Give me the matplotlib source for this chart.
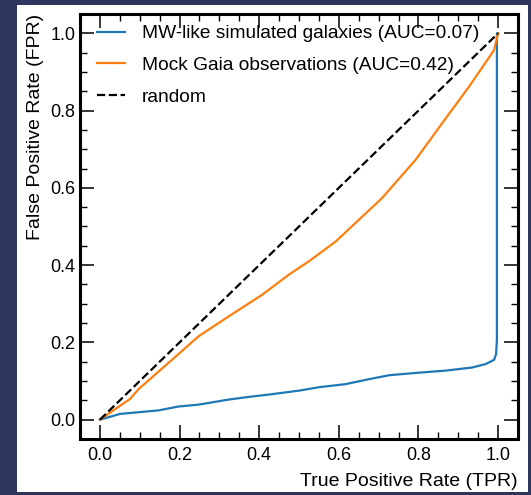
import matplotlib
matplotlib.use("Agg")
import matplotlib.pyplot as plt
from matplotlib.patches import Rectangle
from matplotlib.ticker import MultipleLocator

plt.rcParams['font.family'] = ['Liberation Sans', 'DejaVu Sans']

# Data
mw_tpr = [0.0, 0.051, 0.147, 0.197, 0.248, 0.323, 0.374, 0.424, 0.499, 0.55, 0.617,
          0.667, 0.726, 0.793, 0.868, 0.935, 0.969, 0.99, 0.995, 0.997, 0.997, 1.0]
mw_fpr = [0.0, 0.015, 0.024, 0.034, 0.039, 0.052, 0.059, 0.065, 0.075, 0.084, 0.092,
          0.103, 0.115, 0.121, 0.127, 0.135, 0.144, 0.155, 0.170, 0.207, 1.0, 1.0]

mock_tpr = [0.0, 0.076, 0.097, 0.181, 0.248, 0.323, 0.407, 0.474, 0.525, 0.592,
            0.709, 0.793, 0.860, 0.927, 0.973, 0.990, 1.0]
mock_fpr = [0.0, 0.054, 0.079, 0.155, 0.216, 0.267, 0.323, 0.375, 0.41, 0.461,
            0.574, 0.673, 0.768, 0.862, 0.931, 0.957, 1.0]

rand = [0.0, 1.0]

labels = ['MW-like simulated galaxies (AUC=0.07)',
          'Mock Gaia observations (AUC=0.42)',
          'random']

W, H = 531, 495
fig = plt.figure(figsize=(W / 100, H / 100), dpi=100)
fig.patch.set_facecolor('#2e365e')
fig.patches.append(Rectangle((17 / W, 3 / H), 511 / W, 487 / H, transform=fig.transFigure,
                             facecolor='white', edgecolor='none', zorder=-10))

ax = fig.add_axes([80 / W, 1 - 439 / H, 438 / W, 425 / H])
ax.plot(mw_tpr, mw_fpr, color='#1f77b4', lw=1.6, label=labels[0])
ax.plot(mock_tpr, mock_fpr, color='#ff7f0e', lw=1.6, label=labels[1])
ax.plot(rand, rand, color='black', lw=1.6, ls='--', label=labels[2])

ax.set_xlim(-0.05, 1.05)
ax.set_ylim(-0.05, 1.05)
ax.xaxis.set_major_locator(MultipleLocator(0.2))
ax.yaxis.set_major_locator(MultipleLocator(0.2))
ax.xaxis.set_minor_locator(MultipleLocator(0.05))
ax.yaxis.set_minor_locator(MultipleLocator(0.05))
ax.tick_params(which='both', direction='in', top=True, right=True, labelsize=13)
ax.tick_params(which='major', length=10, width=1.1)
ax.tick_params(which='minor', length=5, width=1.0)
ax.tick_params(axis='x', which='major', pad=6)
ax.tick_params(axis='y', which='major', pad=3.5)
for s in ax.spines.values():
    s.set_linewidth(2.2)

ax.set_xlabel('True Positive Rate (TPR)', fontsize=14, loc='right', labelpad=6.5)
ax.set_ylabel('False Positive Rate (FPR)', fontsize=14, loc='top', labelpad=4)

ax.legend(loc='upper left', bbox_to_anchor=(0.0205, 0.992), borderaxespad=0,
          frameon=False, fontsize=13.8, handlelength=1.5,
          handletextpad=0.85, labelspacing=0.74)

fig.savefig('out.png', dpi=100, facecolor=fig.get_facecolor())
